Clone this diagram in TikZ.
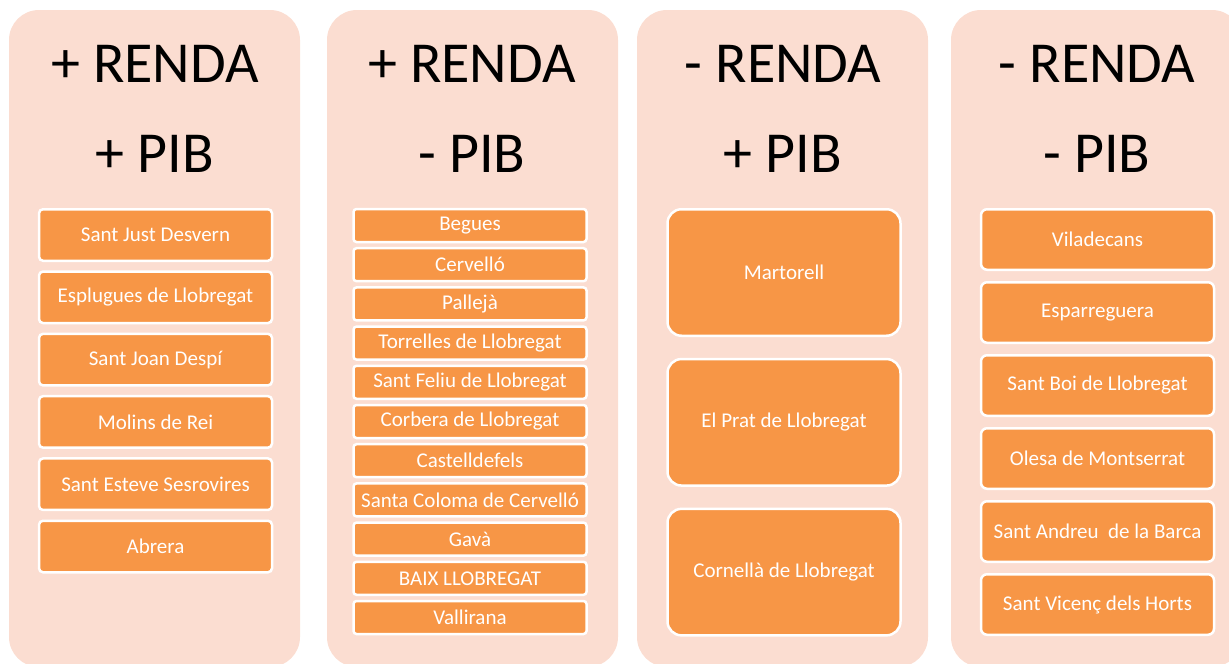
\documentclass[tikz,border=0pt]{standalone}
\usepackage{fontspec}
\setmainfont{Carlito}
\definecolor{panelpink}{HTML}{FBDDD1}
\definecolor{boxorange}{HTML}{F79646}
\begin{document}
\begin{tikzpicture}[x=1pt,y=-1pt,
  panel/.style={fill=panelpink, draw=none, rounded corners=30pt},
  title/.style={font=\fontsize{58}{60}\selectfont, anchor=base, inner sep=0pt},
  item/.style={draw=white, line width=2.5pt, fill=boxorange, text=white,
    font=\fontsize{21}{24}\selectfont, rounded corners=4pt,
    minimum width=233pt, inner sep=0pt, align=center}]
\useasboundingbox (0,0) rectangle (1229,664);
\begin{scope}
\clip (0,0) rectangle (1229,664);
\fill[panel] (9,10) rectangle (300,667);
\fill[panel] (327,10) rectangle (618,667);
\fill[panel] (637,10) rectangle (928,667);
\fill[panel] (951,10) rectangle (1242,667);
\end{scope}
% titles
\node[title] (t1a) at (155,82) {+ RENDA};
\node[title] (t1b) at (155,172) {+ PIB};
\node[title] (t2a) at (472,82) {+ RENDA};
\node[title] (t2b) at (472,172) {- PIB};
\node[title] (t3a) at (783,82) {- RENDA};
\node[title] (t3b) at (783,172) {+ PIB};
\node[title] (t4a) at (1097,82) {- RENDA};
\node[title] (t4b) at (1097,172) {- PIB};
% column 1
\foreach \t [count=\i from 0] in {Sant Just Desvern, Esplugues de Llobregat, Sant Joan Despí, Molins de Rei, Sant Esteve Sesrovires, Abrera}
  \node[item, minimum height=51.5pt] (a\i) at (155.5,{235+62.3*\i}) {\t};
% column 2
\foreach \t [count=\i from 0] in {Begues, Cervelló, Pallejà, Torrelles de Llobregat, Sant Feliu de Llobregat, Corbera de Llobregat, Castelldefels, Santa Coloma de Cervelló, Gavà, BAIX LLOBREGAT, Vallirana}
  \node[item, minimum height=33pt, rounded corners=3pt] (b\i) at (470,{225.5+39.2*\i}) {\t};
% column 3
\foreach \t [count=\i from 0] in {Martorell, El Prat de Llobregat, Cornellà de Llobregat}
  \node[item, minimum height=126.5pt, rounded corners=14pt] (c\i) at (784,{272.5+149.8*\i}) {\t};
% column 4
\foreach \t [count=\i from 0] in {Viladecans, Esparreguera, Sant Boi de Llobregat, Olesa de Montserrat, Sant Andreu~ de la Barca, Sant Vicenç dels Horts}
  \node[item, minimum height=60.5pt, rounded corners=6pt] (d\i) at (1097.5,{239.5+73*\i}) {\t};
\end{tikzpicture}
\end{document}
